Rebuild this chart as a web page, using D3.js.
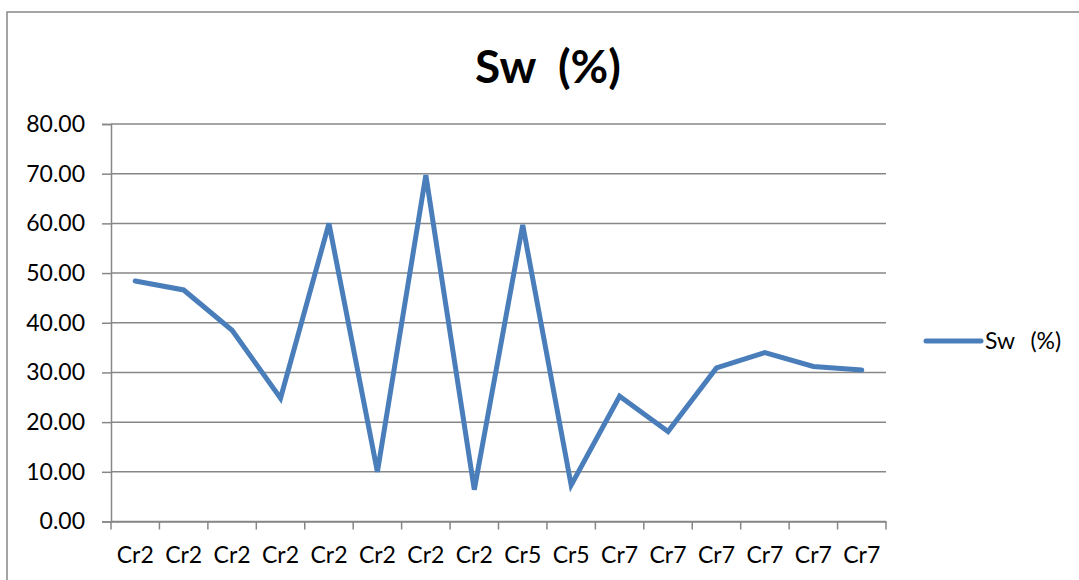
<!DOCTYPE html>
<html>
<head>
  <meta charset="utf-8">
  <title>Sw (%)</title>
  <script src="https://cdnjs.cloudflare.com/ajax/libs/d3/7.8.5/d3.min.js"></script>
  <style>
    body { margin: 0; background: #fff; }
    text { font-family: Lato, "Open Sans", sans-serif; fill: #000; }
    .grid line { stroke: #878787; stroke-width: 1.5; }
    .axis path, .axis line { stroke: #878787; stroke-width: 1.5; }
  </style>
</head>
<body>
<div id="chart"></div>
<script>
// categories along x
var wells = ["Cr2","Cr2","Cr2","Cr2","Cr2","Cr2","Cr2","Cr2","Cr5","Cr5","Cr7","Cr7","Cr7","Cr7","Cr7","Cr7"];
// Sw (%) values
var sw = [48.4, 46.6, 38.5, 24.8, 60.0, 10.0, 69.7, 6.4, 59.7, 7.3, 25.2, 18.1, 30.9, 34.0, 31.2, 30.5];
var yTicks = [0, 10, 20, 30, 40, 50, 60, 70, 80];

var W = 1079, H = 580;
var margin = {top: 124, right: 193, bottom: 58.5, left: 111},
    width = W - margin.left - margin.right,
    height = H - margin.top - margin.bottom;

var svg = d3.select("#chart").append("svg")
    .attr("width", W)
    .attr("height", H);

// outer frame
svg.append("rect")
  .attr("x", 7).attr("y", 12)
  .attr("width", W).attr("height", H)
  .attr("fill", "none")
  .attr("stroke", "#888")
  .attr("stroke-width", 1.5);

svg.append("text")
  .attr("x", 548).attr("y", 83)
  .attr("text-anchor", "middle")
  .style("font-size", "46px")
  .style("font-weight", "bold")
  .style("white-space", "pre")
  .text("Sw  (%)");

var g = svg.append("g")
  .attr("transform", "translate(" + margin.left + "," + margin.top + ")");

var x = d3.scaleBand().domain(d3.range(wells.length)).range([0, width]);
var y = d3.scaleLinear().domain([0, 80]).range([height, 0]);

// gridlines
g.append("g").attr("class", "grid")
  .selectAll("line")
  .data(yTicks)
  .enter().append("line")
    .attr("x1", 0).attr("x2", width)
    .attr("y1", d => y(d)).attr("y2", d => y(d));

// y axis
var yAxis = g.append("g").attr("class", "axis")
  .call(d3.axisLeft(y).tickValues(yTicks).tickSize(9).tickPadding(17).tickFormat(d3.format(".2f")));
yAxis.selectAll("text").style("font-size", "23px");

// x axis with ticks on band boundaries
var xAxis = g.append("g").attr("class", "axis")
  .attr("transform", "translate(0," + height + ")")
  .call(d3.axisBottom(x).tickSize(0).tickPadding(25).tickFormat(i => wells[i]));
xAxis.selectAll("text").style("font-size", "23px");
xAxis.selectAll(".bound")
  .data(d3.range(wells.length + 1))
  .enter().append("line")
    .attr("class", "bound")
    .attr("x1", i => i * x.step()).attr("x2", i => i * x.step())
    .attr("y1", 0).attr("y2", 8);

var line = d3.line()
  .x((d, i) => x(i) + x.bandwidth() / 2)
  .y(d => y(d));

g.append("path")
  .datum(sw)
  .attr("fill", "none")
  .attr("stroke", "#4a7ebb")
  .attr("stroke-width", 5)
  .attr("stroke-linejoin", "miter")
  .attr("stroke-linecap", "round")
  .attr("d", line);

// legend
var leg = svg.append("g").attr("transform", "translate(926,341)");
leg.append("line")
  .attr("x1", 0).attr("x2", 55)
  .attr("stroke", "#4a7ebb").attr("stroke-width", 5)
  .attr("stroke-linecap", "round");
leg.append("text")
  .attr("x", 59).attr("y", 8)
  .style("font-size", "23px")
  .style("white-space", "pre")
  .style("word-spacing", "2px")
  .text("Sw  (%)");
</script>
</body>
</html>
